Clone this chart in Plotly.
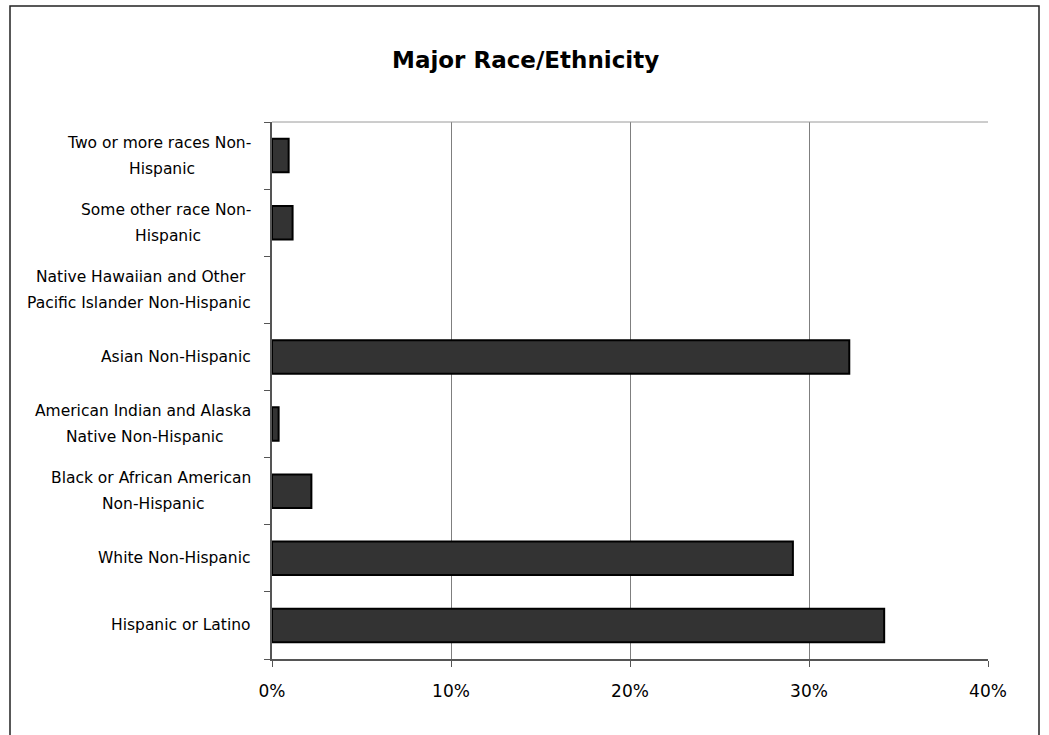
import plotly.graph_objects as go

categories = [
    "Hispanic or Latino",
    "White Non-Hispanic",
    "Black or African American\nNon-Hispanic",
    "American Indian and Alaska\nNative Non-Hispanic",
    "Asian Non-Hispanic",
    "Native Hawaiian and Other\nPacific Islander Non-Hispanic",
    "Some other race Non-\nHispanic",
    "Two or more races Non-\nHispanic",
]
values = [34.2, 29.1, 2.2, 0.37, 32.25, 0.0, 1.15, 0.93]
tick_vals = [0, 10, 20, 30, 40]
tick_text = ["0%", "10%", "20%", "30%", "40%"]

W, H = 1049, 735
ML, MR, MT, MB = 272, 61, 122, 76
PW, PH = W - ML - MR, H - MT - MB

FONT = "DejaVu Sans"
LAB_SIZE = 15.5
# approximate rendered pixel widths of the widest line of each wrapped label (layout helper)
WIDEST_PX = {
    "Two or more races Non-": 183,
    "Some other race Non-": 170,
    "Pacific Islander Non-Hispanic": 224,
    "American Indian and Alaska": 216,
    "Black or African American": 200,
}

fig = go.Figure()
fig.add_trace(go.Bar(
    x=values, y=list(range(len(categories))), orientation="h",
    marker=dict(color="#333333",
                line=dict(color="#000000", width=[2 if v > 0 else 0 for v in values])),
    width=0.5, hoverinfo="x",
))

annotations = []
lab_x = -(272 - 253) / PW
for i, lab in enumerate(categories):
    lines = lab.split("\n")
    if len(lines) == 1:
        annotations.append(dict(
            x=lab_x, xref="paper", y=i, yref="y", text=lines[0],
            showarrow=False, xanchor="right", yanchor="middle",
            font=dict(family=FONT, size=LAB_SIZE, color="#000"),
        ))
    else:
        widest = next(l for l in lines if l in WIDEST_PX)
        cx = lab_x - (WIDEST_PX[widest] / 2) / PW
        for ln, shift in zip(lines, (13, -13)):
            if ln == widest:
                ax, anc = lab_x, "right"
            else:
                ax, anc = cx, "center"
            annotations.append(dict(
                x=ax, xref="paper", y=i, yref="y", text=ln,
                showarrow=False, xanchor=anc, yanchor="middle", yshift=shift,
                font=dict(family=FONT, size=LAB_SIZE, color="#000"),
            ))

annotations.append(dict(
    x=(525 - ML) / PW, xref="paper", y=(H - MB - 60) / PH, yref="paper",
    text="<b>Major Race/Ethnicity</b>", showarrow=False,
    xanchor="center", yanchor="middle",
    font=dict(family=FONT, size=23, color="#000"),
))

shapes = [
    dict(type="rect", xref="paper", yref="paper",
         x0=(10 - ML) / PW, x1=(1039 - ML) / PW,
         y0=(H - MB - 745) / PH, y1=(H - MB - 6) / PH,
         line=dict(color="#222222", width=1.5), fillcolor="rgba(0,0,0,0)", layer="below"),
    dict(type="line", xref="paper", yref="paper", x0=0, x1=1, y0=1, y1=1,
         line=dict(color="#9a9a9a", width=1)),
]

fig.update_layout(
    width=W, height=H,
    margin=dict(l=ML, r=MR, t=MT, b=MB, pad=0),
    paper_bgcolor="white", plot_bgcolor="white",
    showlegend=False,
    font=dict(family=FONT, size=14, color="#000"),
    xaxis=dict(
        range=[0, 40], tickvals=tick_vals, ticktext=tick_text,
        showgrid=True, gridcolor="#7f7f7f", gridwidth=1,
        showline=True, linecolor="#555555", linewidth=1.5,
        ticks="outside", ticklen=6, tickcolor="#555555",
        tickfont=dict(family=FONT, size=17, color="#000"),
        ticklabelstandoff=10, zeroline=False, fixedrange=True,
    ),
    yaxis=dict(
        range=[-0.5, 7.5], tickvals=[i - 0.5 for i in range(9)],
        showticklabels=False, showgrid=False,
        showline=True, linecolor="#555555", linewidth=1.5,
        ticks="outside", ticklen=6, tickcolor="#555555",
        zeroline=False, fixedrange=True,
    ),
    annotations=annotations,
    shapes=shapes,
)

fig.write_html(
    "out.html",
    config={"displayModeBar": False},
    post_script="document.body.style.margin='0';document.body.style.overflow='hidden';",
)
